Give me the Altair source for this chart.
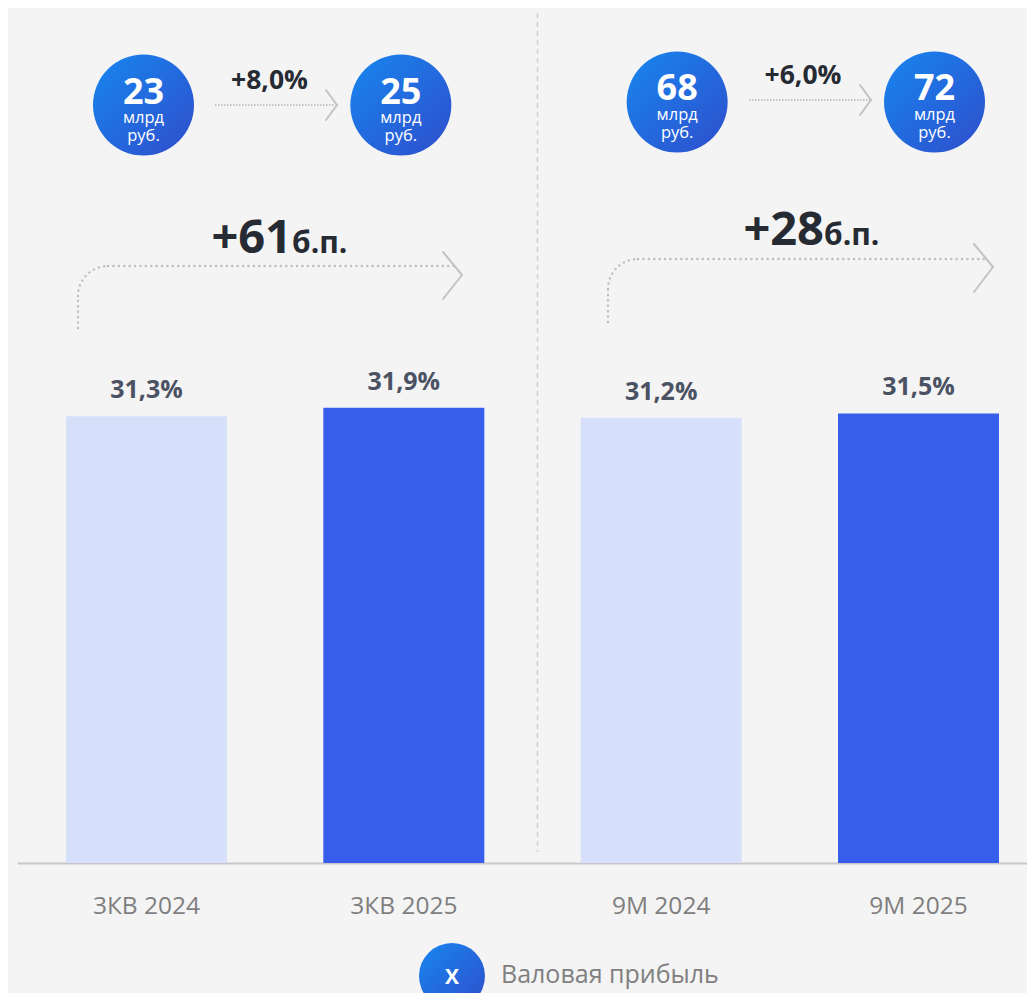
import altair as alt
import pandas as pd

# ---------------- data ----------------
categories = ["3КВ 2024", "3КВ 2025", "9М 2024", "9М 2025"]
margin_pct = [31.3, 31.9, 31.2, 31.5]
margin_text = ["31,3%", "31,9%", "31,2%", "31,5%"]
series = ["Прошлый год", "Текущий год", "Прошлый год", "Текущий год"]
periods = ["3КВ", "3КВ", "9М", "9М"]
profit_bn = ["23", "25", "68", "72"]
unit_line1 = "млрд"
unit_line2 = "руб."
growth_text = ["+8,0%", "+6,0%"]
margin_change_bp = ["+61", "+28"]
bp_unit = "б.п."
legend_symbol = "X"
legend_text = "Валовая прибыль"

df = pd.DataFrame({
    "cat": categories,
    "value": margin_pct,
    "label": margin_text,
    "series": series,
    "period": periods,
    "profit": profit_bn,
})
one = pd.DataFrame({"k": [0]})

FONT = "Open Sans"
BG = "#f4f4f4"
DOT = "#bdbdbd"
CHEV = "#c3c3c3"
DARK = "#262a33"

grad = alt.Gradient(
    gradient="linear",
    stops=[alt.GradientStop(color="#1787ef", offset=0),
           alt.GradientStop(color="#2f4dcc", offset=1)],
    x1=0, y1=0, x2=1, y2=1,
)

x_enc = alt.X(
    "cat:N",
    scale=alt.Scale(domain=categories, range=[9, 1040],
                    paddingInner=0.3744, paddingOuter=0.1904),
    axis=alt.Axis(title=None, ticks=False, tickSize=0, labelPadding=50,
                  labelBaseline="alphabetic", labelFont=FONT, labelFontSize=24.5,
                  labelColor="#7f7f7f", domainColor="#c9c7c9", domainWidth=2,
                  grid=False, labelAngle=0),
)
y_enc = alt.Y("value:Q", scale=alt.Scale(domain=[0, 59.9], nice=False, zero=True), axis=None)

base = alt.Chart(df)

bars = base.mark_bar(opacity=1).encode(
    x=x_enc, y=y_enc,
    color=alt.Color("series:N",
                    scale=alt.Scale(domain=["Прошлый год", "Текущий год"],
                                    range=["#d7e0fa", "#375eea"]),
                    legend=None),
)
bar_labels = base.mark_text(dy=-18, baseline="alphabetic", font=FONT, fontSize=25,
                            fontWeight="bold", color="#4b5263").encode(
    x=x_enc, y=y_enc, text="label:N")


def seg(x1, y1, x2, y2, color, width, dash=None, cap="butt"):
    kw = dict(color=color, strokeWidth=width, strokeCap=cap)
    if dash:
        kw["strokeDash"] = dash
    return alt.Chart(one).mark_rule(**kw).encode(
        x=alt.value(x1), y=alt.value(y1), x2=alt.value(x2), y2=alt.value(y2))


def txt(s, x, y, size, color, weight="normal", align="center"):
    return alt.Chart(one).mark_text(font=FONT, fontSize=size, fontWeight=weight,
                                    color=color, align=align,
                                    baseline="alphabetic").encode(
        x=alt.value(x), y=alt.value(y), text=alt.value(s))


def corner(cx, cy, r):
    return alt.Chart(one).mark_point(
        shape="M -1 1 C -1 -0.1046 -0.1046 -1 1 -1", size=r * r, filled=False,
        color=DOT, opacity=1, strokeWidth=2.4, strokeDash=[0.1, 5.3], strokeCap="round",
    ).encode(x=alt.value(cx), y=alt.value(cy))


def group_layers(period, xoff, cy, num_y, l1_y, l2_y):
    d = base.transform_filter(alt.datum.period == period)
    circ = d.mark_circle(size=101 * 101, fill=grad, opacity=1, xOffset=xoff).encode(
        x=x_enc, y=alt.value(cy))
    num = d.mark_text(font=FONT, fontSize=36, fontWeight="bold", color="white",
                      baseline="alphabetic", dx=xoff).encode(
        x=x_enc, y=alt.value(num_y), text="profit:N")
    u1 = d.mark_text(font=FONT, fontSize=16.5, color="white", baseline="alphabetic",
                     dx=xoff).encode(x=x_enc, y=alt.value(l1_y), text=alt.value(unit_line1))
    u2 = d.mark_text(font=FONT, fontSize=16.5, color="white", baseline="alphabetic",
                     dx=xoff).encode(x=x_enc, y=alt.value(l2_y), text=alt.value(unit_line2))
    return [circ, num, u1, u2]


layers = [bars, bar_labels]

# vertical divider
layers.append(seg(529.5, 5, 529.5, 844, "#cfcfcf", 1.5, dash=[5, 4]))

# group 1 (3КВ)
layers += group_layers("3КВ", -3, 97, 96, 115, 133)
layers += [
    txt(growth_text[0], 261.5, 81, 26.5, DARK, "bold"),
    seg(207, 97, 327, 97, "#b5b5b5", 1.5, dash=[1.5, 1.5]),
    seg(318, 82, 329, 97, CHEV, 2, cap="round"),
    seg(329, 97, 318, 112, CHEV, 2, cap="round"),
    txt(margin_change_bp[0], 284, 245, 47, DARK, "bold", "right"),
    txt(bp_unit, 284, 245, 30, DARK, "bold", "left"),
    seg(70, 320, 70, 288, DOT, 2.4, dash=[0.1, 5.3], cap="round"),
    corner(85, 273, 30),
    seg(100, 258, 449, 258, DOT, 2.4, dash=[0.1, 5.3], cap="round"),
    seg(435, 244, 454, 267, CHEV, 2, cap="round"),
    seg(454, 267, 435, 291, CHEV, 2, cap="round"),
]

# group 2 (9М)
layers += group_layers("9М", 16, 94, 92, 112, 129.5)
layers += [
    txt(growth_text[1], 795, 76, 26.5, DARK, "bold"),
    seg(741, 92, 862, 92, "#b5b5b5", 1.5, dash=[1.5, 1.5]),
    seg(852, 77, 863, 92, CHEV, 2, cap="round"),
    seg(863, 92, 852, 107, CHEV, 2, cap="round"),
    txt(margin_change_bp[1], 816, 237, 47, DARK, "bold", "right"),
    txt(bp_unit, 816, 237, 30, DARK, "bold", "left"),
    seg(600, 314, 600, 281, DOT, 2.4, dash=[0.1, 5.3], cap="round"),
    corner(615, 266, 30),
    seg(630, 251, 979, 251, DOT, 2.4, dash=[0.1, 5.3], cap="round"),
    seg(966, 236, 985, 259, CHEV, 2, cap="round"),
    seg(985, 259, 966, 284, CHEV, 2, cap="round"),
]

# legend
layers += [
    alt.Chart(one).mark_circle(size=66 * 66, fill=grad, opacity=1).encode(
        x=alt.value(444), y=alt.value(968)),
    txt(legend_symbol, 444, 975.5, 21, "white", "bold"),
    txt(legend_text, 493, 975, 25, "#808080", "normal", "left"),
]

chart = alt.layer(*layers).properties(
    width=1019, height=855,
    autosize=alt.AutoSizeParams(type="none"),
    padding={"left": 0, "top": 0, "right": 0, "bottom": 130},
    background=BG,
).configure_view(strokeWidth=0)

chart.save("out.html", embed_options={"renderer": "svg", "actions": False})
